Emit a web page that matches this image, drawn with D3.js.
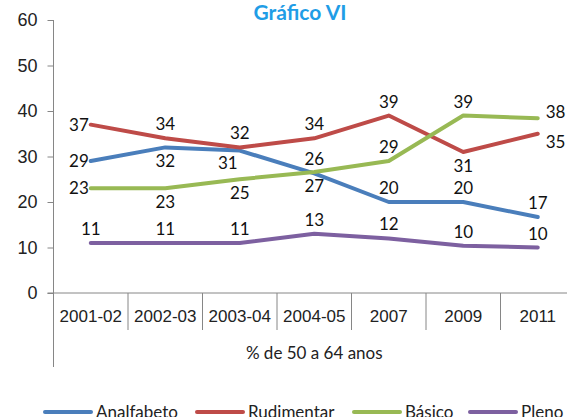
<!DOCTYPE html>
<html lang="pt">
<head>
  <meta charset="utf-8">
  <script src="https://d3js.org/d3.v7.min.js"></script>
  <title>Gráfico VI</title>
  <style>
    body { margin: 0; background: #fff; }
    svg { display: block; font-family: Lato, "Open Sans", sans-serif; }
    .axis path { stroke: #868686; }
    .axis line { stroke: #868686; }
    .axis text { fill: #222; }
  </style>
</head>
<body>
<svg width="567" height="417"></svg>
<script>
// categories (years) and the four series, % of people aged 50 to 64
var years = ["2001-02", "2002-03", "2003-04", "2004-05", "2007", "2009", "2011"];
var analfabeto = [29, 32, 31.3, 26.3, 20, 20, 16.7];
var rudimentar = [37, 34, 32, 34, 39, 31, 35];
var basico     = [23, 23, 25, 26.6, 29, 39, 38.4];
var pleno      = [11, 11, 11, 13, 12, 10.4, 10];
var yTicks = [0, 10, 20, 30, 40, 50, 60];

// where each value label sits relative to its point
// a=above, b=below, l=left, bl=below-left, r=right, ru/rd = right, nudged up/down
var seriesList = [
  {name: "Analfabeto", values: analfabeto, color: "#4a7ebb", pos: ["l", "b", "bl", "a", "a", "a", "a"]},
  {name: "Rudimentar", values: rudimentar, color: "#be4b48", pos: ["l", "a", "a", "a", "a", "b", "rd"]},
  {name: "Básico",     values: basico,     color: "#98b954", pos: ["l", "b", "b", "b", "a", "a", "ru"]},
  {name: "Pleno",      values: pleno,      color: "#7d60a0", pos: ["a", "a", "a", "a", "a", "a", "a"]}
];

var svg = d3.select("svg");
var plotLeft = 53.5, plotRight = 575, plotTop = 20, plotBottom = 293;

var x = d3.scaleBand().domain(years).range([plotLeft, plotRight]).padding(0);
var y = d3.scaleLinear().domain([0, 60]).range([plotBottom, plotTop]);
var cx = function(d) { return x(d) + x.bandwidth() / 2; };

// title
svg.append("text")
  .attr("x", 300).attr("y", 20)
  .attr("text-anchor", "middle")
  .style("font-size", "21px").style("font-weight", "bold")
  .attr("fill", "#1f9de6")
  .text("Gráfico VI");

// y axis
var gy = svg.append("g").attr("class", "axis")
  .attr("transform", "translate(" + plotLeft + ",0)")
  .call(d3.axisLeft(y).tickValues(yTicks).tickSize(6).tickSizeOuter(0).tickPadding(10));
gy.select(".domain").remove();
gy.selectAll("text").style("font-size", "18px");
svg.append("line")
  .attr("x1", plotLeft).attr("x2", plotLeft)
  .attr("y1", plotTop).attr("y2", 367)
  .attr("stroke", "#868686");

// x axis with category dividers
var gx = svg.append("g").attr("class", "axis")
  .attr("transform", "translate(0," + plotBottom + ")")
  .call(d3.axisBottom(x).tickSize(0).tickPadding(17));
gx.select(".domain").attr("d", "M" + (plotLeft - 6) + ",0H" + plotRight);
gx.selectAll("text").style("font-size", "17px");
gx.selectAll(".divider")
  .data(years.slice(1).concat(["end"]))
  .enter().append("line")
  .attr("class", "divider")
  .attr("x1", function(d) { return d === "end" ? plotRight : x(d); })
  .attr("x2", function(d) { return d === "end" ? plotRight : x(d); })
  .attr("y1", 0).attr("y2", 37)
  .attr("stroke", "#868686");

svg.append("text")
  .attr("x", (plotLeft + plotRight) / 2).attr("y", 359)
  .attr("text-anchor", "middle")
  .style("font-size", "17px").attr("fill", "#222")
  .text("% de 50 a 64 anos");

// lines
var line = d3.line()
  .x(function(d, i) { return cx(years[i]); })
  .y(function(d) { return y(d); });

svg.selectAll(".serie")
  .data(seriesList)
  .enter().append("path")
  .attr("class", "serie")
  .attr("fill", "none")
  .attr("stroke", function(d) { return d.color; })
  .attr("stroke-width", 4)
  .attr("stroke-linejoin", "round")
  .attr("stroke-linecap", "round")
  .attr("d", function(d) { return line(d.values); });

// value labels
var dyFor = {a: -8, b: 20, bl: 18, l: 6, r: 6, ru: 0, rd: 14};
var dxFor = {a: 0, b: 0, bl: -12, l: -2, r: 8, ru: 8, rd: 8};
seriesList.forEach(function(s) {
  svg.selectAll(null)
    .data(s.values)
    .enter().append("text")
    .style("font-size", "17px")
    .attr("fill", "#111")
    .attr("text-anchor", function(d, i) {
      var p = s.pos[i];
      return p === "l" ? "end" : p.charAt(0) === "r" ? "start" : "middle";
    })
    .attr("x", function(d, i) { return cx(years[i]) + dxFor[s.pos[i]]; })
    .attr("y", function(d, i) { return y(d) + dyFor[s.pos[i]]; })
    .text(function(d) { return Math.round(d); });
});

// legend
var legendX = [43, 195, 352, 468];
var legend = svg.selectAll(".legend")
  .data(seriesList)
  .enter().append("g")
  .attr("class", "legend")
  .attr("transform", function(d, i) { return "translate(" + legendX[i] + ",412)"; });
legend.append("line")
  .attr("x1", 2).attr("x2", 48)
  .attr("stroke", function(d) { return d.color; })
  .attr("stroke-width", 4)
  .attr("stroke-linecap", "round");
legend.append("text")
  .attr("x", 53).attr("y", 6)
  .style("font-size", "17px").attr("fill", "#222")
  .text(function(d) { return d.name; });
</script>
</body>
</html>
